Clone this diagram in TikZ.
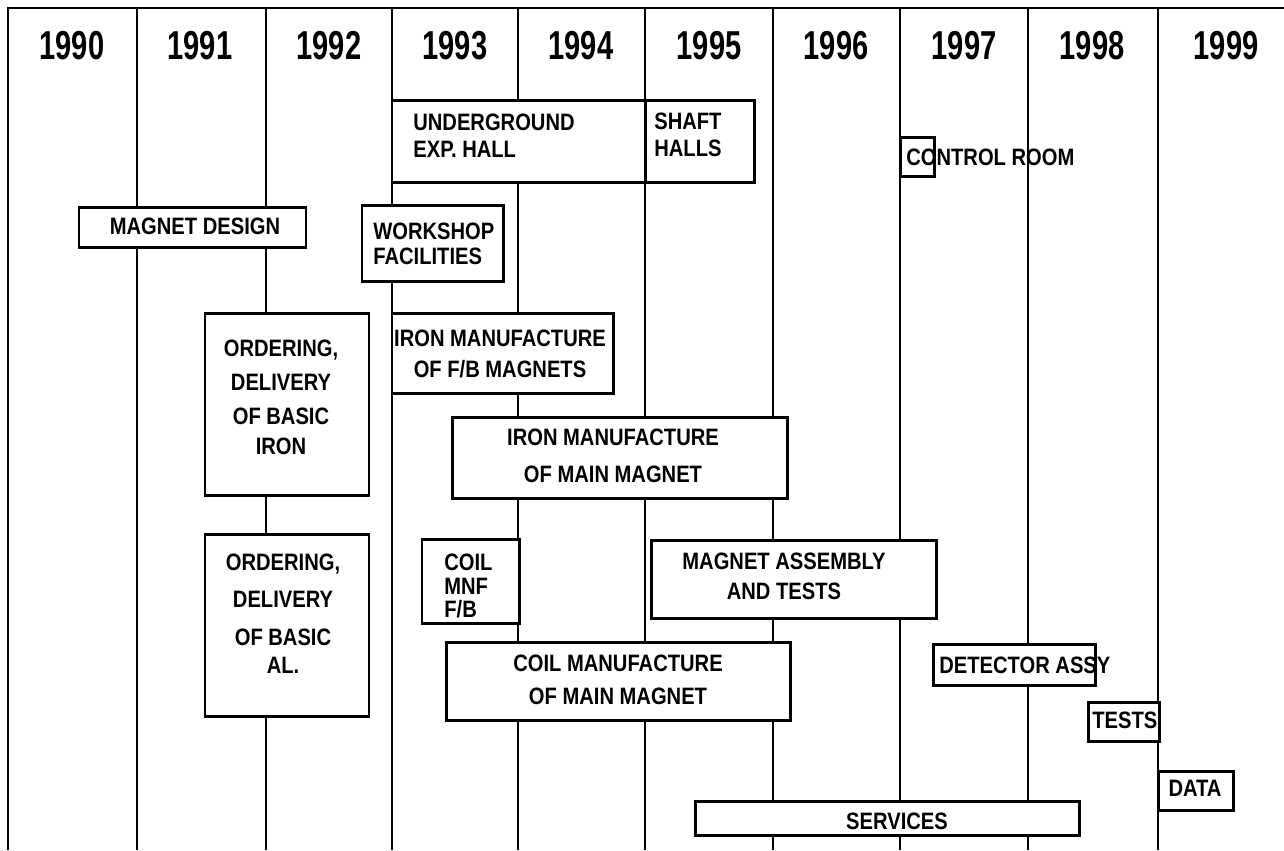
\documentclass[tikz,border=0pt]{standalone}
\usepackage{fontspec}
\newfontfamily\yearfont[FakeStretch=0.72]{Liberation Sans}
\newfontfamily\lblfont[FakeStretch=0.85]{Liberation Sans}
\usepackage{tikz}
\tikzset{
  yearline/.style={line width=1.3pt},
  taskbox/.style={line width=1.7pt, fill=white},
  yearlbl/.style={inner sep=0pt, font=\yearfont\bfseries\fontsize{23pt}{23pt}\selectfont},
  lbl/.style={inner sep=0pt, font=\lblfont\bfseries\fontsize{13.5pt}{#1}\selectfont},
  lbl/.default=15pt
}

\begin{document}
\begin{tikzpicture}[x=0.02cm, y=-0.02cm]
\useasboundingbox (0,0) rectangle (1284,850);

% Frame and year columns
\draw[yearline] (8,850) -- (8,8) -- (1284,8);
\foreach \x in {137,266,392,518,645,773,900,1028,1158}
  \draw[yearline] (\x,8) -- (\x,850);

% Years
\foreach \yr/\x in {1990/72,1991/200,1992/329,1993/455,1994/581,1995/709,1996/836,1997/964,1998/1092,1999/1226}
  \node[yearlbl] (y\yr) at (\x,46) {\yr};

% Boxes
\draw[taskbox] (392,100) rectangle (645,182);
\draw[taskbox] (645,100) rectangle (754,182);
\draw[taskbox] (900,137) rectangle (934,176);
\draw[taskbox] (79,207) rectangle (306,247);
\draw[taskbox] (362,205) rectangle (503,281);
\draw[taskbox] (205,313) rectangle (369,495);
\draw[taskbox] (392,313) rectangle (613,393);
\draw[taskbox] (452,417) rectangle (787,498);
\draw[taskbox] (205,534) rectangle (369,716);
\draw[taskbox] (422,539) rectangle (519,623);
\draw[taskbox] (446,642) rectangle (790,720);
\draw[taskbox] (651,540) rectangle (936,618);
\draw[taskbox] (933,644) rectangle (1095,685);
\draw[taskbox] (1088,702) rectangle (1159,741);
\draw[taskbox] (1158,771) rectangle (1233,810);
\draw[taskbox] (695,801) rectangle (1079,835);

% Texts
\node[lbl=15.3pt, align=left, anchor=west] (hall) at (413,135.5) {UNDERGROUND\\EXP. HALL};
\node[lbl=15.3pt, align=left, anchor=west] (shaft) at (654,134.5) {SHAFT\\HALLS};
\node[lbl, anchor=west] (control) at (906,157) {CONTROL ROOM};
\node[lbl] (design) at (195,226) {MAGNET DESIGN};
\node[lbl=14.2pt, align=left, anchor=west] (workshop) at (373,243.5) {WORKSHOP\\FACILITIES};
\node[lbl=19.3pt, align=center] (orderiron) at (281,397) {ORDERING,\\DELIVERY\\OF BASIC\\[-2.3pt]IRON};
\node[lbl=17.6pt, align=center] (ironfb) at (500,353.5) {IRON MANUFACTURE\\OF F/B MAGNETS};
\node[lbl=21pt, align=center] (ironmain) at (613,455.5) {IRON MANUFACTURE\\OF MAIN MAGNET};
\node[lbl=21.2pt, align=center] (orderal) at (283,614) {ORDERING,\\DELIVERY\\OF BASIC\\[-4.8pt]AL.};
\node[lbl=13.6pt, align=left, anchor=west] (coilfb) at (444,586) {COIL\\MNF\\F/B};
\node[lbl=18.7pt, align=center] (coilmain) at (618,680) {COIL MANUFACTURE\\OF MAIN MAGNET};
\node[lbl=17pt, align=center] (assembly) at (784,576) {MAGNET ASSEMBLY\\AND TESTS};
\node[lbl, anchor=west] (detector) at (939,665) {DETECTOR ASSY};
\node[lbl, anchor=west] (tests) at (1092,720) {TESTS};
\node[lbl] (data) at (1195,788) {DATA};
\node[lbl] (services) at (897,821) {SERVICES};

\end{tikzpicture}
\end{document}
